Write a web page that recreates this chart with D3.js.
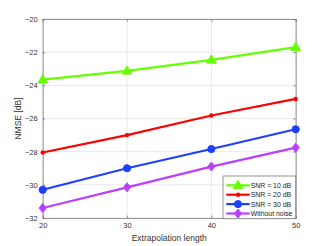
<!DOCTYPE html>
<html>
<head>
<meta charset="utf-8">
<script src="https://cdn.jsdelivr.net/npm/d3@7"></script>
<style>
body { margin: 0; background: #fff; }
svg { display: block; font-family: "Liberation Sans", Arial, sans-serif; }
</style>
</head>
<body>
<svg id="chart"></svg>
<script>
// extrapolation lengths (x) and NMSE values in dB for each curve
var lengths = [20, 30, 40, 50];
var snr10 = [-23.66, -23.13, -22.47, -21.7];
var snr20 = [-28.05, -27.0, -25.82, -24.82];
var snr30 = [-30.3, -29.0, -27.84, -26.65];
var noNoise = [-31.4, -30.15, -28.9, -27.76];

var seriesNames = ["SNR = 10 dB", "SNR = 20 dB", "SNR = 30 dB", "Without noise"];
var xTicks = [20, 30, 40, 50];
var yTicks = [-32, -30, -28, -26, -24, -22, -20];

var series = [
	{ name: seriesNames[0], values: snr10, color: "#66ff00", marker: "triangle" },
	{ name: seriesNames[1], values: snr20, color: "#ff0000", marker: "dot" },
	{ name: seriesNames[2], values: snr30, color: "#1f3fff", marker: "circle" },
	{ name: seriesNames[3], values: noNoise, color: "#bb3fff", marker: "diamond" }
];

var width = 327, height = 246;
var margin = { left: 42.7, right: 31.3, top: 19, bottom: 28 };

var svg = d3.select("#chart").attr("width", width).attr("height", height);

var x = d3.scaleLinear().domain([20, 50]).range([margin.left, width - margin.right]);
var y = d3.scaleLinear().domain([-32, -20]).range([height - margin.bottom, margin.top]);

// grid
svg.append("g").selectAll("line").data(xTicks).enter().append("line")
	.attr("x1", function(d){ return x(d); }).attr("x2", function(d){ return x(d); })
	.attr("y1", y(-32)).attr("y2", y(-20))
	.attr("stroke", "#e3e3e3").attr("stroke-width", 0.8);
svg.append("g").selectAll("line").data(yTicks).enter().append("line")
	.attr("x1", x(20)).attr("x2", x(50))
	.attr("y1", function(d){ return y(d); }).attr("y2", function(d){ return y(d); })
	.attr("stroke", "#e3e3e3").attr("stroke-width", 0.8);

// axes
var xAxis = svg.append("g")
	.attr("transform", "translate(0," + y(-32) + ")")
	.call(d3.axisBottom(x).tickValues(xTicks).tickSize(-2.5).tickPadding(5));
var yAxis = svg.append("g")
	.attr("transform", "translate(" + x(20) + ",0)")
	.call(d3.axisLeft(y).tickValues(yTicks).tickSize(-2.5).tickPadding(5).tickFormat(d3.format("d")));
var yAxisR = svg.append("g")
	.attr("transform", "translate(" + x(50) + ",0)")
	.call(d3.axisRight(y).tickValues(yTicks).tickSize(-2.5).tickFormat(""));
var xAxisT = svg.append("g")
	.attr("transform", "translate(0," + y(-20) + ")")
	.call(d3.axisTop(x).tickValues(xTicks).tickSize(-2.5).tickFormat(""));

[xAxis, yAxis, yAxisR, xAxisT].forEach(function(a){
	a.select(".domain").attr("stroke", "#7a7a7a").attr("stroke-width", 0.8);
	a.selectAll(".tick line").attr("stroke", "#7a7a7a").attr("stroke-width", 0.8);
	a.selectAll(".tick text").attr("fill", "#333").attr("font-size", 7.5)
		.attr("font-family", "Liberation Sans, Arial, sans-serif");
});
xAxis.selectAll(".tick text").text(function(d){ return d; });

// lines
var line = d3.line()
	.x(function(d, i){ return x(lengths[i]); })
	.y(function(d){ return y(d); });

function drawMarker(g, type, color, cx, cy, s){
	if(type == "triangle"){
		g.append("path").attr("d", "M" + cx + "," + (cy - 5) + "L" + (cx + 4.8) + "," + (cy + 3.2) + "L" + (cx - 4.8) + "," + (cy + 3.2) + "Z")
			.attr("fill", color).attr("stroke", color).attr("stroke-width", 1);
	} else if(type == "dot"){
		g.append("circle").attr("cx", cx).attr("cy", cy).attr("r", 2.2).attr("fill", color);
	} else if(type == "circle"){
		g.append("circle").attr("cx", cx).attr("cy", cy).attr("r", 3.6)
			.attr("fill", color).attr("stroke", color).attr("stroke-width", 1);
	} else {
		g.append("path").attr("d", "M" + cx + "," + (cy - 4.5) + "L" + (cx + 3.6) + "," + cy + "L" + cx + "," + (cy + 4.5) + "L" + (cx - 3.6) + "," + cy + "Z")
			.attr("fill", color).attr("stroke", color).attr("stroke-width", 1);
	}
}

series.forEach(function(s){
	var g = svg.append("g");
	g.append("path").datum(s.values)
		.attr("d", line)
		.attr("fill", "none")
		.attr("stroke", s.color)
		.attr("stroke-width", 2.2);
	s.values.forEach(function(v, i){
		drawMarker(g, s.marker, s.color, x(lengths[i]), y(v));
	});
});

// axis labels
svg.append("text")
	.attr("x", (x(20) + x(50)) / 2).attr("y", 241)
	.attr("text-anchor", "middle").attr("font-size", 8.5).attr("fill", "#333")
	.text("Extrapolation length");
svg.append("text")
	.attr("transform", "translate(21," + (y(-26)) + ") rotate(-90)")
	.attr("text-anchor", "middle").attr("font-size", 8.5).attr("fill", "#333")
	.text("NMSE [dB]");

// legend
var legend = svg.append("g");
legend.append("rect")
	.attr("x", 223).attr("y", 176).attr("width", 72.7).attr("height", 42.7)
	.attr("fill", "#fff").attr("stroke", "#7a7a7a").attr("stroke-width", 0.8);
series.forEach(function(s, i){
	var ly = 185.3 + i * 9.4;
	legend.append("line")
		.attr("x1", 226.3).attr("x2", 249.7).attr("y1", ly).attr("y2", ly)
		.attr("stroke", s.color).attr("stroke-width", 2.2);
	drawMarker(legend, s.marker, s.color, 238, ly);
	legend.append("text")
		.attr("x", 250.7).attr("y", ly + 2.5)
		.attr("font-size", 6.9).attr("fill", "#222")
		.text(s.name);
});
</script>
</body>
</html>
